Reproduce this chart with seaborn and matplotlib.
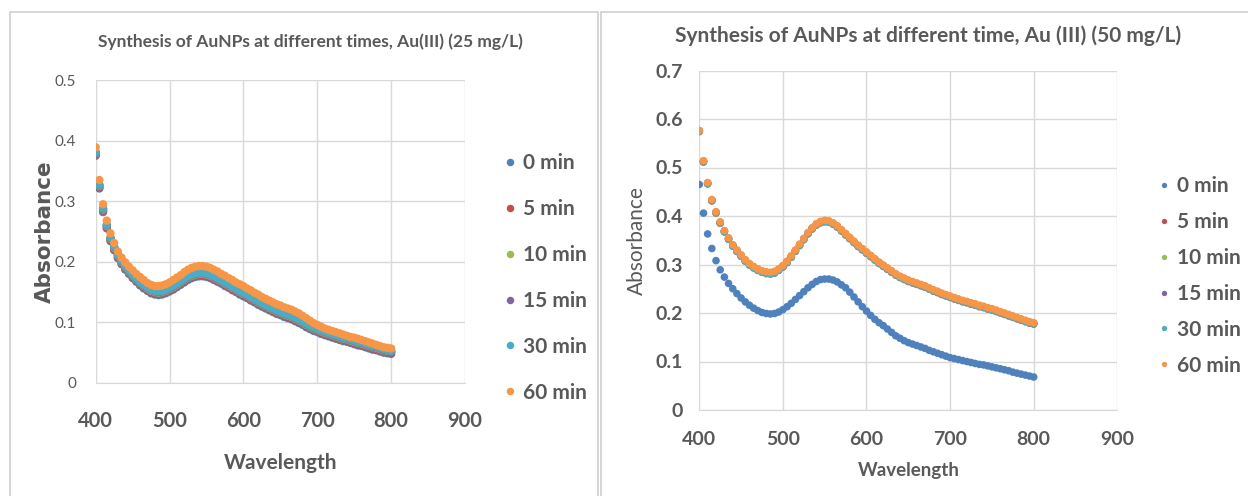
import numpy as np
import pandas as pd
import matplotlib
matplotlib.use("Agg")
import matplotlib.pyplot as plt
import seaborn as sns
from matplotlib.patches import Rectangle

# wavelength grid of the spectrometer (nm)
wavelength = list(range(400, 805, 5))
times = ["0 min", "5 min", "10 min", "15 min", "30 min", "60 min"]
colors = ["#4F81BD", "#C0504D", "#9BBB59", "#8064A2", "#4BACC6", "#F79646"]

# ---- Au(III) 25 mg/L ----
left_0 = [.375, .321, .282, .255, .234, .219, .206, .196, .187, .180,
          .173, .167, .161, .156, .152, .148, .146, .145, .146, .148,
          .151, .154, .158, .162, .166, .170, .173, .175, .176, .176,
          .175, .173, .170, .167, .164, .160, .157, .153, .150, .146,
          .143, .140, .136, .133, .129, .126, .123, .120, .117, .114,
          .112, .109, .107, .105, .102, .099, .096, .092, .089, .086,
          .084, .081, .079, .077, .075, .073, .071, .069, .068, .066,
          .064, .062, .061, .059, .057, .055, .054, .052, .050, .049,
          .048]
left_5 = [.377, .323, .284, .257, .236, .221, .208, .198, .189, .182,
          .175, .169, .163, .158, .154, .150, .148, .147, .148, .150,
          .153, .156, .160, .164, .168, .172, .175, .177, .178, .178,
          .177, .175, .172, .169, .166, .162, .159, .155, .152, .148,
          .145, .142, .138, .135, .131, .128, .125, .122, .119, .116,
          .114, .111, .109, .107, .104, .101, .098, .094, .091, .088,
          .086, .083, .081, .079, .077, .075, .073, .071, .070, .068,
          .066, .064, .063, .061, .059, .057, .056, .054, .052, .051,
          .050]
left_10 = [.379, .325, .286, .259, .238, .223, .210, .200, .191, .184,
           .177, .171, .165, .160, .156, .152, .150, .149, .150, .152,
           .155, .158, .162, .166, .170, .174, .177, .179, .180, .180,
           .179, .177, .174, .171, .168, .164, .161, .157, .154, .150,
           .147, .144, .140, .137, .133, .130, .127, .124, .121, .118,
           .116, .113, .111, .109, .106, .103, .100, .096, .093, .090,
           .088, .085, .083, .081, .079, .077, .075, .073, .072, .070,
           .068, .066, .065, .063, .061, .059, .058, .056, .054, .053,
           .052]
left_15 = [.380, .326, .287, .260, .239, .224, .211, .201, .192, .185,
           .178, .172, .166, .161, .157, .153, .151, .150, .151, .153,
           .156, .159, .163, .167, .171, .175, .178, .180, .181, .181,
           .180, .178, .175, .172, .169, .165, .162, .158, .155, .151,
           .148, .145, .141, .138, .134, .131, .128, .125, .122, .119,
           .117, .114, .112, .110, .107, .104, .101, .097, .094, .091,
           .089, .086, .084, .082, .080, .078, .076, .074, .073, .071,
           .069, .067, .066, .064, .062, .060, .059, .057, .055, .054,
           .052]
left_30 = [.381, .327, .288, .261, .240, .225, .212, .202, .193, .186,
           .179, .173, .167, .162, .158, .154, .152, .151, .152, .154,
           .157, .160, .164, .168, .172, .176, .179, .181, .182, .182,
           .181, .179, .176, .173, .170, .166, .163, .159, .156, .152,
           .149, .146, .142, .139, .135, .132, .129, .126, .123, .120,
           .118, .115, .113, .111, .108, .105, .102, .098, .095, .092,
           .090, .087, .085, .083, .081, .079, .077, .075, .074, .072,
           .070, .068, .067, .065, .063, .061, .060, .058, .056, .055,
           .053]
left_60 = [.389, .335, .295, .268, .247, .231, .217, .207, .199, .192,
           .186, .180, .175, .170, .165, .162, .160, .160, .161, .163,
           .166, .170, .174, .178, .183, .187, .190, .192, .193, .193,
           .192, .190, .187, .184, .180, .177, .173, .170, .166, .163,
           .160, .156, .153, .149, .146, .142, .139, .136, .133, .130,
           .128, .125, .123, .121, .118, .115, .111, .107, .103, .099,
           .096, .093, .090, .088, .086, .084, .082, .080, .078, .076,
           .075, .073, .071, .069, .067, .065, .063, .061, .059, .058,
           .057]

# ---- Au(III) 50 mg/L ----
right_0 = [.465, .406, .363, .333, .308, .289, .274, .261, .250, .240,
           .231, .223, .216, .210, .205, .201, .199, .198, .199, .202,
           .207, .213, .220, .228, .236, .244, .252, .259, .265, .269,
           .270, .270, .268, .264, .258, .252, .243, .233, .223, .213,
           .204, .195, .187, .180, .174, .167, .160, .153, .148, .143,
           .139, .136, .133, .130, .127, .123, .120, .117, .114, .111,
           .108, .106, .104, .102, .100, .098, .096, .094, .093, .091,
           .089, .087, .085, .083, .081, .078, .076, .074, .072, .070,
           .068]
right_5 = [.574, .511, .466, .431, .406, .385, .367, .352, .338, .327,
           .317, .307, .299, .293, .288, .284, .282, .281, .283, .288,
           .295, .304, .315, .327, .339, .351, .363, .373, .381, .386,
           .388, .387, .383, .377, .369, .361, .353, .345, .337, .330,
           .323, .316, .309, .302, .296, .290, .284, .278, .273, .269,
           .265, .262, .259, .256, .253, .249, .245, .242, .238, .235,
           .232, .229, .226, .223, .221, .218, .216, .213, .211, .208,
           .206, .203, .200, .197, .194, .191, .188, .185, .182, .179,
           .177]
right_10 = [.575, .512, .467, .432, .407, .386, .368, .353, .339, .328,
            .318, .308, .300, .294, .289, .285, .283, .282, .284, .289,
            .296, .305, .316, .328, .340, .352, .364, .374, .382, .387,
            .389, .388, .384, .378, .370, .362, .354, .346, .338, .331,
            .324, .317, .310, .303, .297, .291, .285, .279, .274, .270,
            .266, .263, .260, .257, .254, .250, .246, .243, .239, .236,
            .233, .230, .227, .224, .222, .219, .217, .214, .212, .209,
            .207, .204, .201, .198, .195, .192, .189, .186, .183, .180,
            .178]
right_15 = [.576, .513, .468, .433, .408, .387, .369, .354, .340, .329,
            .319, .309, .301, .295, .290, .286, .284, .283, .285, .290,
            .297, .306, .317, .329, .341, .353, .365, .375, .383, .388,
            .390, .389, .385, .379, .371, .363, .355, .347, .339, .332,
            .325, .318, .311, .304, .298, .292, .286, .280, .275, .271,
            .267, .264, .261, .258, .255, .251, .247, .244, .240, .237,
            .234, .231, .228, .225, .223, .220, .218, .215, .213, .210,
            .208, .205, .202, .199, .196, .193, .190, .187, .184, .181,
            .179]
right_30 = [.575, .513, .467, .432, .407, .386, .368, .352, .338, .327,
            .317, .307, .299, .293, .288, .284, .281, .280, .282, .288,
            .295, .304, .315, .328, .340, .352, .364, .374, .382, .387,
            .389, .388, .384, .378, .370, .362, .354, .346, .338, .331,
            .324, .317, .310, .303, .297, .291, .285, .279, .274, .270,
            .266, .263, .260, .257, .254, .250, .246, .243, .239, .236,
            .233, .230, .227, .224, .222, .219, .217, .214, .212, .209,
            .207, .204, .201, .198, .195, .192, .189, .186, .183, .180,
            .178]
right_60 = [.576, .514, .469, .434, .409, .388, .370, .355, .341, .330,
            .320, .310, .302, .296, .291, .287, .285, .284, .286, .291,
            .298, .307, .318, .330, .342, .354, .366, .376, .384, .389,
            .391, .390, .386, .380, .372, .364, .356, .348, .340, .333,
            .326, .319, .312, .305, .299, .293, .287, .281, .276, .272,
            .268, .265, .262, .259, .256, .252, .248, .245, .241, .238,
            .235, .232, .229, .226, .224, .221, .219, .216, .214, .211,
            .209, .206, .203, .200, .197, .194, .191, .188, .185, .182,
            .180]


def to_long(series):
    frames = []
    for name, vals in zip(times, series):
        frames.append(pd.DataFrame({"Wavelength": wavelength, "Absorbance": vals, "time": name}))
    return pd.concat(frames, ignore_index=True)


df_left = to_long([left_0, left_5, left_10, left_15, left_30, left_60])
df_right = to_long([right_0, right_5, right_10, right_15, right_30, right_60])

sns.set_style("white")
plt.rcParams["font.family"] = ["Lato", "DejaVu Sans"]
text_col = "#595959"
grid_col = "#D9D9D9"

W, H = 1248, 496
fig = plt.figure(figsize=(W / 100, H / 100), dpi=100)

# chart frames
fig.patches.append(Rectangle((10 / W, -0.1), 588 / W, 1.1 - 12 / H, transform=fig.transFigure,
                             fill=False, edgecolor="#D0D0D0", lw=1.2))
fig.patches.append(Rectangle((601 / W, -0.1), 0.6, 1.1 - 12 / H, transform=fig.transFigure,
                             fill=False, edgecolor="#D0D0D0", lw=1.2))

ax1 = fig.add_axes([95.7 / W, (H - 383) / H, 369.3 / W, 303 / H])
ax2 = fig.add_axes([699.3 / W, (H - 410) / H, 418 / W, 339.5 / H])


def style_axis(ax, ymax, ystep):
    ax.set_xlim(400, 900)
    ax.set_ylim(0, ymax)
    ax.set_xticks(range(400, 901, 100))
    ax.set_yticks(np.round(np.arange(0, ymax + 1e-9, ystep), 1))
    ax.set_yticklabels(["0"] + [f"{v:.1f}" for v in np.arange(ystep, ymax + 1e-9, ystep)])
    ax.grid(True, color=grid_col, lw=1)
    ax.set_axisbelow(True)
    for s in ["top", "right", "left"]:
        ax.spines[s].set_visible(False)
    ax.spines["bottom"].set_color(grid_col)
    ax.tick_params(length=0, colors=text_col)


sns.scatterplot(data=df_left, x="Wavelength", y="Absorbance", hue="time", palette=colors,
                s=36, linewidth=0, ax=ax1, legend=True)
style_axis(ax1, 0.5, 0.1)
ax1.tick_params(axis="y", labelsize=11, pad=14)
ax1.tick_params(axis="x", labelsize=14.5, pad=20)
for t in ax1.get_xticklabels():
    t.set_fontweight("bold")
ax1.set_xlabel("Wavelength", fontsize=15, fontweight="bold", color=text_col, labelpad=16)
ax1.set_ylabel("Absorbance", fontsize=15.5, fontweight="bold", color=text_col, labelpad=0,
               family=["DejaVu Sans"])
fig.text(310 / W, 1 - 42 / H, "Synthesis of AuNPs at different times, Au(III) (25 mg/L)",
         ha="center", va="center", fontsize=12.5, fontweight="bold", color=text_col)
h, l = ax1.get_legend_handles_labels()
ax1.legend(h, l, loc="center left", bbox_to_anchor=(502 / W, 1 - 278 / H),
           bbox_transform=fig.transFigure, frameon=False, labelspacing=1.24,
           borderpad=0, borderaxespad=0, handlelength=0.8, handletextpad=0.2,
           markerscale=0.9, labelcolor=text_col, prop={"weight": "bold", "size": 15})

sns.scatterplot(data=df_right, x="Wavelength", y="Absorbance", hue="time", palette=colors,
                s=30, linewidth=0, ax=ax2, legend=True)
style_axis(ax2, 0.7, 0.1)
ax2.tick_params(axis="both", labelsize=14)
ax2.tick_params(axis="y", pad=12)
ax2.tick_params(axis="x", pad=15)
for t in ax2.get_xticklabels() + ax2.get_yticklabels():
    t.set_fontweight("bold")
ax2.set_xlabel("Wavelength", fontsize=13.5, fontweight="bold", color=text_col, labelpad=10)
ax2.set_ylabel("Absorbance", fontsize=15, color=text_col, labelpad=6)
fig.text(928 / W, 1 - 36 / H, "Synthesis of AuNPs at different time, Au (III) (50 mg/L)",
         ha="center", va="center", fontsize=15, fontweight="bold", color=text_col)
h, l = ax2.get_legend_handles_labels()
ax2.legend(h, l, loc="center left", bbox_to_anchor=(1157 / W, 1 - 276 / H),
           bbox_transform=fig.transFigure, frameon=False, labelspacing=0.76,
           borderpad=0, borderaxespad=0, handlelength=0.7, handletextpad=0.25,
           markerscale=0.7, labelcolor=text_col, prop={"weight": "bold", "size": 15})

fig.savefig("out.png", dpi=100)
